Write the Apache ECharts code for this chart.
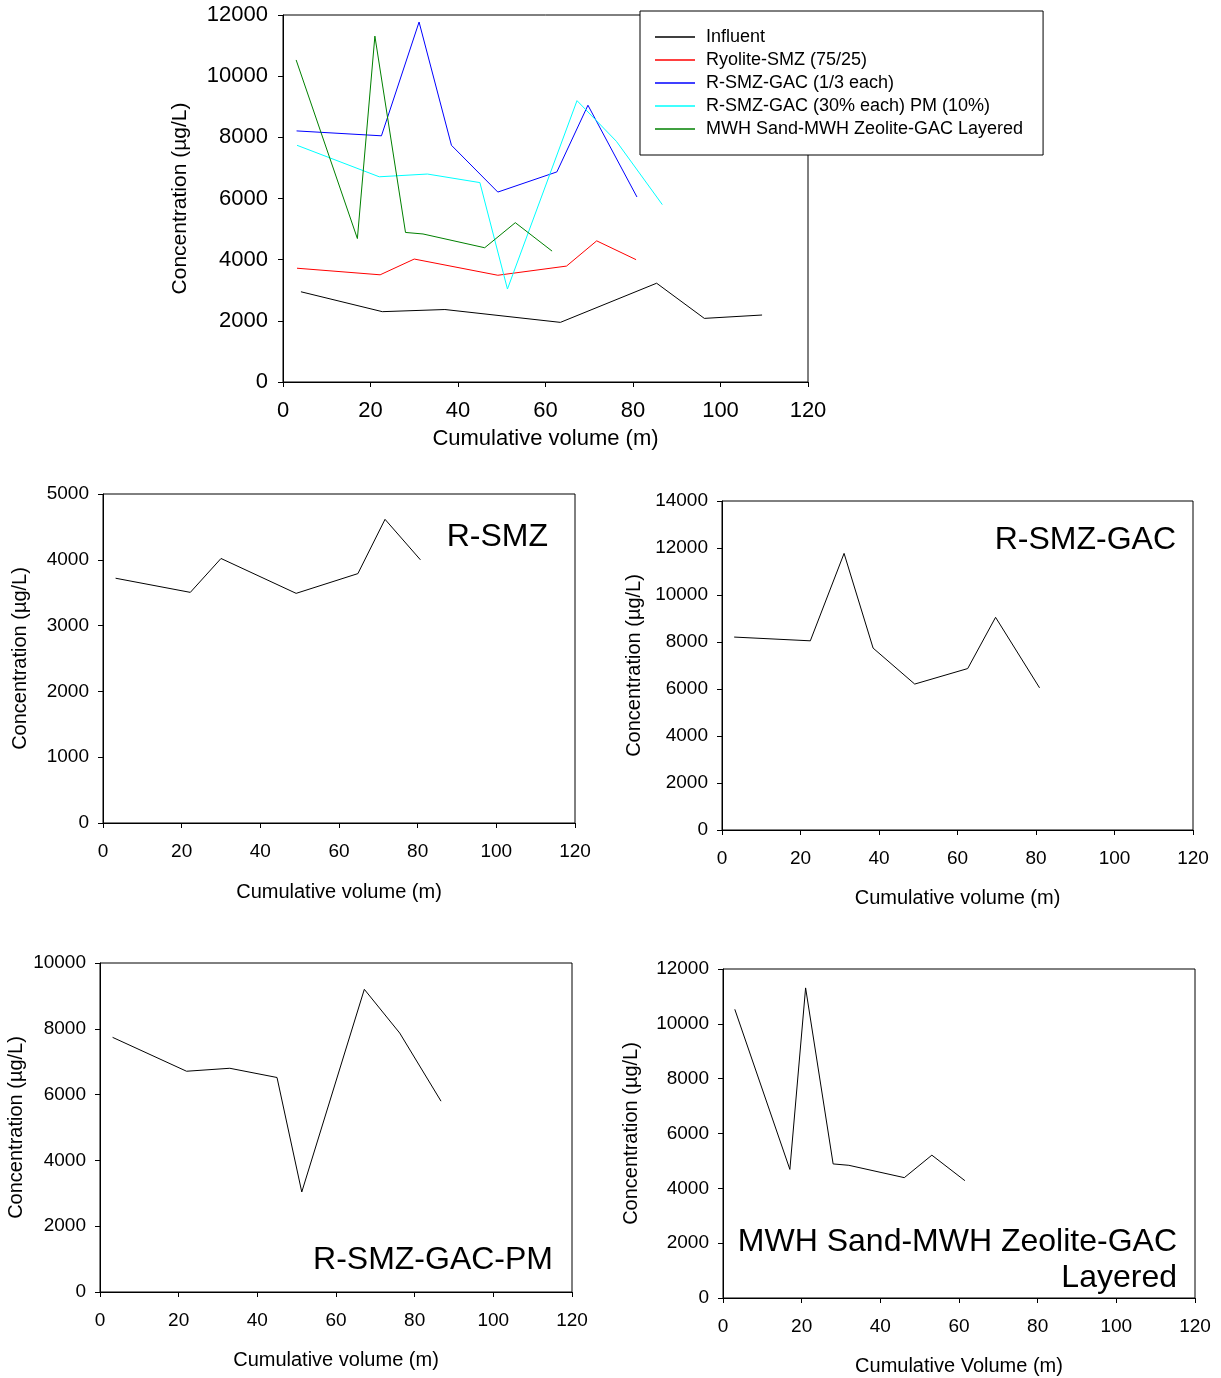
<!DOCTYPE html>
<html><head><meta charset="utf-8">
<script src="https://cdn.jsdelivr.net/npm/echarts@6/dist/echarts.min.js"></script>
<style>html,body{margin:0;padding:0;background:#fff}#c{width:1221px;height:1378px}</style>
</head><body><div id="c"></div>
<script>
// ---- data (cumulative volume, concentration µg/L) ----
const influentX = [4.1, 22.7, 37.0, 63.4, 85.4, 96.3, 109.5];
const influentY = [2950, 2300, 2370, 1950, 3230, 2080, 2190];
const rsmzX = [3.2, 22.2, 30.0, 49.1, 64.8, 71.7, 80.7];
const rsmzY = [3720, 3505, 4020, 3490, 3790, 4615, 4000];
const gacX = [3.1, 22.5, 31.1, 38.5, 49.1, 62.6, 69.7, 80.9];
const gacY = [8210, 8050, 11770, 7740, 6210, 6870, 9050, 6050];
const pmX = [3.2, 22.0, 33.0, 45.0, 51.3, 67.2, 76.2, 86.7];
const pmY = [7740, 6710, 6800, 6520, 3040, 9200, 7870, 5800];
const mwhX = [3.0, 17.0, 21.0, 28.0, 32.0, 46.1, 53.1, 61.5];
const mwhY = [10530, 4690, 11310, 4890, 4840, 4390, 5210, 4280];

const seriesNames = ['Influent', 'Ryolite-SMZ (75/25)', 'R-SMZ-GAC (1/3 each)', 'R-SMZ-GAC (30% each) PM (10%)', 'MWH Sand-MWH Zeolite-GAC Layered'];
const seriesColors = ['#000000', '#ff0000', '#0000ff', '#00ffff', '#008000'];
const panelTitles = ['R-SMZ', 'R-SMZ-GAC', 'R-SMZ-GAC-PM', 'MWH Sand-MWH Zeolite-GAC\nLayered'];
const yMaxes = [12000, 5000, 14000, 10000, 12000];
const yIntervals = [2000, 1000, 2000, 2000, 2000];
const xMin = 0, xMax = 120, xInterval = 20;
const yName = 'Concentration (\u00b5g/L)';
const xNames = ['Cumulative volume (m)', 'Cumulative volume (m)', 'Cumulative volume (m)', 'Cumulative volume (m)', 'Cumulative Volume (m)'];

const F = 'Arial, "Liberation Sans", sans-serif';
function pairs(xs, ys) { return xs.map((x, i) => [x, ys[i]]); }

// layout per grid
const grids = [
  {left: 283, top: 15, width: 525, height: 367, fs: 22, nfs: 22, yfs: 21, xGap: 46, yGap: 92, lm: 15, xm: 18},
  {left: 103, top: 494, width: 472, height: 329, fs: 19, nfs: 20, yfs: 20, xGap: 59, yGap: 73, lm: 14, xm: 19},
  {left: 722, top: 501, width: 471, height: 329, fs: 19, nfs: 20, yfs: 20, xGap: 58, yGap: 78, lm: 14, xm: 19},
  {left: 100, top: 963, width: 472, height: 329, fs: 19, nfs: 20, yfs: 20, xGap: 58, yGap: 74, lm: 14, xm: 19},
  {left: 723, top: 969, width: 472, height: 329, fs: 19, nfs: 20, yfs: 20, xGap: 58, yGap: 82, lm: 14, xm: 19}
];

const gridOpt = grids.map(g => ({left: g.left, top: g.top, width: g.width, height: g.height,
  show: true, borderColor: '#000', borderWidth: 1, backgroundColor: 'transparent', outerBoundsMode: 'none'}));

const axisCommon = (fs, nfs, m) => ({
  axisLine: {show: true, onZero: false, lineStyle: {color: '#000', width: 1}},
  axisTick: {show: true, inside: false, length: 5, lineStyle: {color: '#000', width: 1}},
  axisLabel: {fontSize: fs, color: '#000', margin: m, fontFamily: F, formatter: v => String(v)},
  splitLine: {show: false},
  nameTextStyle: {fontSize: nfs, color: '#000', fontFamily: F}
});

const xAxes = grids.map((g, i) => Object.assign({type: 'value', gridIndex: i, min: xMin, max: xMax, interval: xInterval,
  name: xNames[i], nameLocation: 'middle', nameGap: g.xGap}, axisCommon(g.fs, g.nfs, g.xm)));
const yAxes = grids.map((g, i) => Object.assign({type: 'value', gridIndex: i, min: 0, max: yMaxes[i], interval: yIntervals[i],
  name: yName, nameLocation: 'middle', nameGap: g.yGap}, axisCommon(g.fs, g.yfs, g.lm)));

const allData = [[influentX, influentY], [rsmzX, rsmzY], [gacX, gacY], [pmX, pmY], [mwhX, mwhY]];
const series = [];
allData.forEach((d, i) => {
  series.push({name: seriesNames[i], type: 'line', xAxisIndex: 0, yAxisIndex: 0, data: pairs(d[0], d[1]),
    symbol: 'none', color: seriesColors[i], lineStyle: {width: 1, color: seriesColors[i]}, animation: false});
});
for (let k = 1; k < 5; k++) {
  const d = allData[k];
  series.push({name: 'panel' + k, type: 'line', xAxisIndex: k, yAxisIndex: k, data: pairs(d[0], d[1]),
    symbol: 'none', lineStyle: {width: 1, color: '#000'}, animation: false});
}

const titlePos = [
  {x: 548, y: 537},
  {x: 1176, y: 540},
  {x: 553, y: 1260},
  {x: 1177, y: 1260}
];
const graphic = panelTitles.map((t, i) => ({type: 'text', x: titlePos[i].x, y: titlePos[i].y, z: 10,
  style: {text: t, font: '32px ' + F, fill: '#000', textAlign: 'right', textVerticalAlign: 'middle', lineHeight: 36}}));

const chart = echarts.init(document.getElementById('c'), null, {renderer: 'canvas'});
chart.setOption({
  animation: false,
  backgroundColor: '#fff',
  grid: gridOpt,
  xAxis: xAxes,
  yAxis: yAxes,
  legend: {
    data: seriesNames, orient: 'vertical', left: 640, top: 11,
    padding: [16, 20, 16, 15], itemGap: 3, itemWidth: 40, itemHeight: 1.5, icon: 'rect',
    backgroundColor: '#fff', borderColor: '#000', borderWidth: 1, z: 20,
    selectedMode: false,
    textStyle: {fontSize: 18, color: '#000', fontFamily: F, lineHeight: 20, padding: [0, 0, 0, 6]}
  },
  series: series,
  graphic: graphic
});
</script></body></html>
